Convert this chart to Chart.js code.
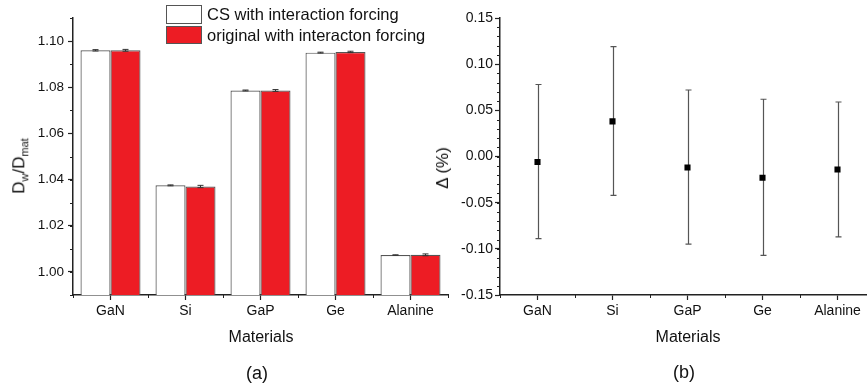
<!DOCTYPE html>
<html>
<head>
<meta charset="utf-8">
<script src="https://cdn.jsdelivr.net/npm/chart.js@4"></script>
<style>
  body { margin: 0; width: 867px; height: 387px; overflow: hidden; background: #fff; position: relative;
         font-family: "Liberation Sans", Arial, sans-serif; color: #111; }
  canvas { position: absolute; top: 0; }
  .lbl { position: absolute; transform: translate(-50%, -50%); white-space: nowrap; }
  .rot { transform: translate(-50%, -50%) rotate(-90deg); }
  .box { position: absolute; width: 34px; border: 1px solid #555; }
  .leg { position: absolute; left: 207px; font-size: 16.5px; white-space: nowrap; transform: translateY(-50%); }
</style>
</head>
<body>
<canvas id="left" width="455" height="387" style="left:0"></canvas>
<canvas id="right" width="460" height="387" style="left:430px"></canvas>

<div class="box" style="left:166px;top:5px;height:17px;background:#fff"></div>
<div class="leg" style="top:14px">CS with interaction forcing</div>
<div class="box" style="left:166px;top:26px;height:16px;background:#ed1c24"></div>
<div class="leg" style="top:35px">original with interacton forcing</div>

<div class="lbl rot" style="left:20px;top:166px;font-size:17px">D<sub style="font-size:11px">w</sub>/D<sub style="font-size:11px">mat</sub></div>
<div class="lbl" style="left:261px;top:337px;font-size:16px">Materials</div>
<div class="lbl" style="left:257px;top:373px;font-size:18px">(a)</div>

<div class="lbl rot" style="left:443px;top:168px;font-size:17px">Δ (%)</div>
<div class="lbl" style="left:688px;top:337px;font-size:16px">Materials</div>
<div class="lbl" style="left:684px;top:372px;font-size:18px">(b)</div>

<script>
const materials = ['GaN', 'Si', 'GaP', 'Ge', 'Alanine'];

// (a) dose ratio Dw/Dmat
const csRatio = [1.0960, 1.0375, 1.0786, 1.0950, 1.0073];
const csErr = [0.0003, 0.0002, 0.0002, 0.0002, 0.0001];
const origRatio = [1.0960, 1.0370, 1.0786, 1.0953, 1.0074];
const origErr = [0.0004, 0.0005, 0.0004, 0.0003, 0.0004];
const ratioTicks = [1.00, 1.02, 1.04, 1.06, 1.08, 1.10];

// (b) relative difference in %
const delta = [-0.006, 0.038, -0.012, -0.023, -0.014];
const deltaHigh = [0.078, 0.119, 0.072, 0.062, 0.059];
const deltaLow = [-0.089, -0.042, -0.095, -0.107, -0.087];
const deltaTicks = [-0.15, -0.10, -0.05, 0.00, 0.05, 0.10, 0.15];

Chart.defaults.font.family = '"Liberation Sans", Arial, sans-serif';
Chart.defaults.color = '#111';

const AXIS = '#222';

// short ticks between the labelled ones
function drawMinorTicks(chart, yStep, yMin, yMax) {
    const ctx = chart.ctx;
    const x = chart.scales.x, y = chart.scales.y;
    const area = chart.chartArea;
    ctx.save();
    ctx.strokeStyle = AXIS;
    ctx.lineWidth = 1;
    ctx.beginPath();
    const n = Math.round((yMax - yMin) / yStep);
    for (let i = 0; i <= n; i++) {
        const py = Math.round(y.getPixelForValue(yMin + i * yStep)) + 0.5;
        ctx.moveTo(area.left, py);
        ctx.lineTo(area.left - 3, py);
    }
    for (let i = 0; i <= materials.length; i++) {
        const px = Math.round(x.getPixelForValue(i - 0.5)) + 0.5;
        ctx.moveTo(px, area.bottom);
        ctx.lineTo(px, area.bottom + 3);
    }
    ctx.stroke();
    ctx.restore();
}

function drawErrorBar(ctx, px, pTop, pBot, cap) {
    ctx.moveTo(px, pTop);
    ctx.lineTo(px, pBot);
    ctx.moveTo(px - cap, pTop);
    ctx.lineTo(px + cap, pTop);
    ctx.moveTo(px - cap, pBot);
    ctx.lineTo(px + cap, pBot);
}

const commonX = {
    offset: true,
    grid: { drawOnChartArea: false, offset: false, tickLength: 5, tickColor: AXIS, tickWidth: 1.2 },
    border: { display: true, color: AXIS, width: 1.5 },
    ticks: { font: { size: 14 }, padding: 3, maxRotation: 0 },
    afterFit: s => { s.height = 92; }
};

// ---- (a) bar chart ----
new Chart(document.getElementById('left'), {
    type: 'bar',
    data: {
        labels: materials,
        datasets: [
            { label: 'CS with interaction forcing', data: csRatio, err: csErr,
              backgroundColor: '#ffffff', borderColor: '#555', borderWidth: 1.2 },
            { label: 'original with interacton forcing', data: origRatio, err: origErr,
              backgroundColor: '#ed1c24', borderColor: '#555', borderWidth: 1.2 }
        ]
    },
    options: {
        responsive: false,
        animation: false,
        devicePixelRatio: 1,
        layout: { padding: { left: 0, top: 18, right: 7, bottom: 0 } },
        datasets: { bar: { categoryPercentage: 0.8, barPercentage: 1.0 } },
        plugins: { legend: { display: false }, tooltip: { enabled: false } },
        scales: {
            x: commonX,
            y: {
                min: 0.99, max: 1.11,
                afterBuildTicks: s => { s.ticks = ratioTicks.map(v => ({ value: v })); },
                afterFit: s => { s.width = 73; },
                grid: { drawOnChartArea: false, tickLength: 5, tickColor: AXIS, tickWidth: 1.2 },
                border: { display: true, color: AXIS, width: 1.5 },
                ticks: { font: { size: 13.5 }, padding: 4, callback: v => v.toFixed(2) }
            }
        }
    },
    plugins: [{
        id: 'errA',
        afterDatasetsDraw(chart) {
            const ctx = chart.ctx, y = chart.scales.y;
            ctx.save();
            ctx.strokeStyle = '#333';
            ctx.lineWidth = 1;
            ctx.beginPath();
            chart.data.datasets.forEach((ds, di) => {
                chart.getDatasetMeta(di).data.forEach((bar, i) => {
                    drawErrorBar(ctx, bar.x,
                        y.getPixelForValue(ds.data[i] + ds.err[i]),
                        y.getPixelForValue(ds.data[i] - ds.err[i]), 3);
                });
            });
            ctx.stroke();
            ctx.restore();
        },
        afterDraw(chart) { drawMinorTicks(chart, 0.01, 0.99, 1.11); }
    }]
});

// ---- (b) difference with error bars ----
new Chart(document.getElementById('right'), {
    type: 'line',
    data: {
        labels: materials,
        datasets: [{
            label: 'Δ', data: delta, showLine: false,
            pointStyle: 'rect', pointRadius: 4.3,
            pointBackgroundColor: '#000', pointBorderColor: '#000', pointBorderWidth: 0
        }]
    },
    options: {
        responsive: false,
        animation: false,
        devicePixelRatio: 1,
        layout: { padding: { left: 0, top: 18, right: 15, bottom: 0 } },
        plugins: { legend: { display: false }, tooltip: { enabled: false } },
        scales: {
            x: commonX,
            y: {
                min: -0.15, max: 0.15,
                afterBuildTicks: s => { s.ticks = deltaTicks.map(v => ({ value: v })); },
                afterFit: s => { s.width = 70; },
                grid: { drawOnChartArea: false, tickLength: 5, tickColor: AXIS, tickWidth: 1.2 },
                border: { display: true, color: AXIS, width: 1.5 },
                ticks: { font: { size: 14 }, padding: 2, callback: v => v.toFixed(2) }
            }
        }
    },
    plugins: [{
        id: 'errB',
        beforeDatasetsDraw(chart) {
            const ctx = chart.ctx, x = chart.scales.x, y = chart.scales.y;
            ctx.save();
            ctx.strokeStyle = '#555';
            ctx.lineWidth = 1.2;
            ctx.beginPath();
            delta.forEach((d, i) => {
                drawErrorBar(ctx, Math.round(x.getPixelForValue(i)) + 0.5,
                    y.getPixelForValue(deltaHigh[i]), y.getPixelForValue(deltaLow[i]), 3);
            });
            ctx.stroke();
            ctx.restore();
        },
        afterDraw(chart) { drawMinorTicks(chart, 0.01, -0.15, 0.15); }
    }]
});
</script>
</body>
</html>
